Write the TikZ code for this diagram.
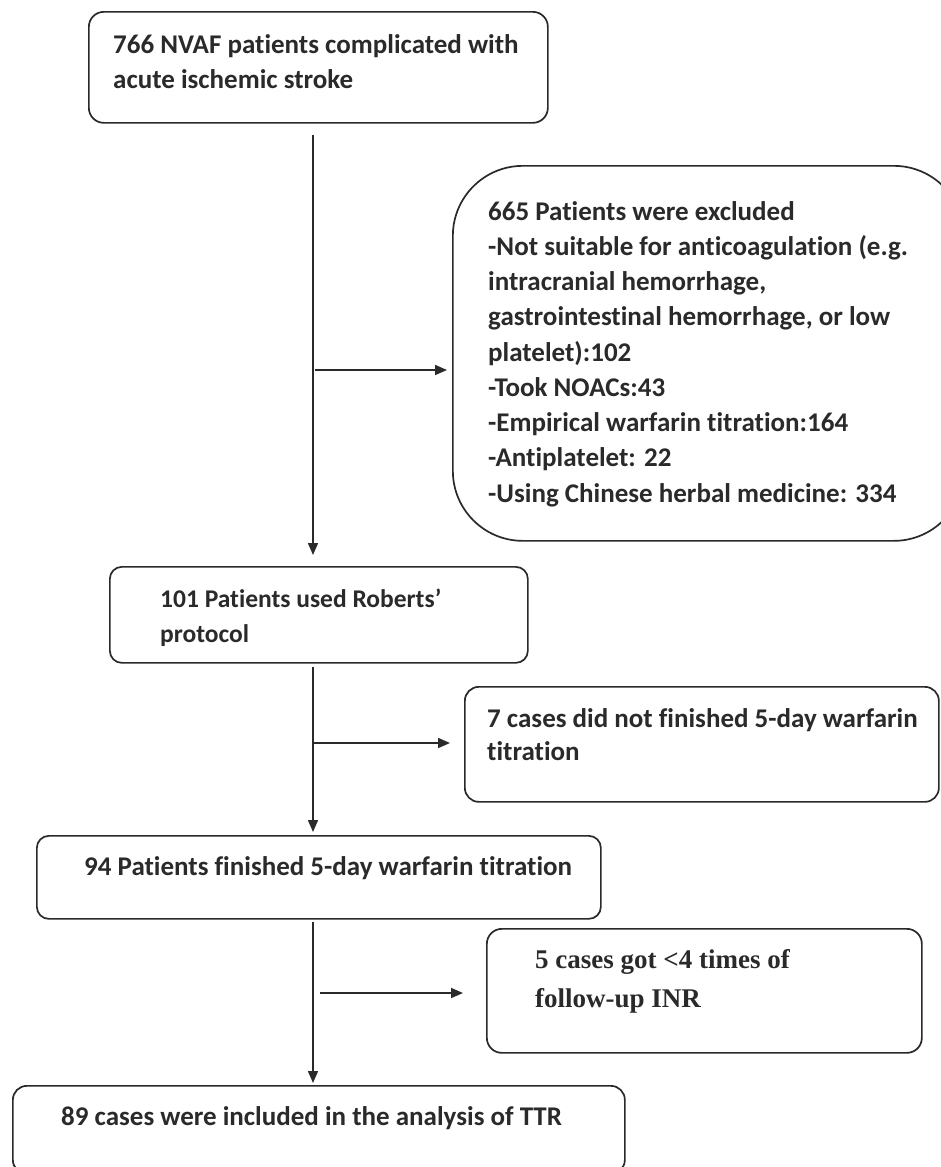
\documentclass[tikz,border=0pt]{standalone}
\usepackage{fontspec}
\setmainfont{Carlito}[Ligatures=NoCommon]
\newfontfamily\serifb{Liberation Serif}
\usetikzlibrary{arrows.meta}
\definecolor{ink}{HTML}{2A2A2A}
\begin{document}
\begin{tikzpicture}[x=1pt,y=-1pt,
  box/.style={draw=ink, line width=1.7pt, inner sep=0pt, anchor=north west},
  txt/.style={inner sep=0pt, anchor=north west, align=left, text=ink, font=\fontsize{27}{35}\selectfont\bfseries},
  arr/.style={draw=ink, line width=1.7pt, -{Triangle[length=12pt,width=10pt]}}]
\useasboundingbox[fill=white] (0,0) rectangle (940,1167);
% boxes
\node[box, rounded corners=15pt, minimum width=459pt, minimum height=111pt] (b1) at (88,11) {};
\node[box, rounded corners=70pt, minimum width=511pt, minimum height=375pt] (bex) at (452,165) {};
\node[box, rounded corners=12pt, minimum width=418pt, minimum height=96pt] (b2) at (109,566) {};
\node[box, rounded corners=14pt, minimum width=474pt, minimum height=115pt] (b7) at (464,686) {};
\node[box, rounded corners=12pt, minimum width=564pt, minimum height=83pt] (b94) at (36,835) {};
\node[box, rounded corners=15pt, minimum width=435pt, minimum height=124pt] (b5) at (486,928) {};
\node[box, rounded corners=14pt, minimum width=612pt, minimum height=88pt] (b89) at (12,1085) {};
% texts
\node[txt] (t1) at (113,29) {\rule{0pt}{24pt}766 NVAF patients complicated with\\acute ischemic stroke};
\node[txt, font=\fontsize{27}{35.25}\selectfont\bfseries] (tex) at (488,196) {\rule{0pt}{24pt}665 Patients were excluded\\
-Not suitable for anticoagulation (e.g.\\
intracranial hemorrhage,\\
gastrointestinal hemorrhage, or low\\
platelet):102\\
-Took NOACs:43\\
-Empirical warfarin titration:164\\
-Antiplatelet: 22\\
-Using Chinese herbal medicine: 334};
\node[txt, font=\fontsize{25.5}{35}\selectfont\bfseries] (t2) at (160,583) {\rule{0pt}{24pt}101 Patients used Roberts’\\protocol};
\node[txt, font=\fontsize{27}{33.5}\selectfont\bfseries] (t7) at (487,703) {\rule{0pt}{24pt}7 cases did not finished 5-day warfarin\\titration};
\node[txt] (t94) at (84,851) {\rule{0pt}{24pt}94 Patients finished 5-day warfarin titration};
\node[txt, font=\fontsize{27}{39}\selectfont\serifb\bfseries] (t5) at (535,944) {\rule{0pt}{24pt}5 cases got <4 times of\\follow-up INR};
\node[txt] (t89) at (61,1101) {\rule{0pt}{24pt}89 cases were included in the analysis of TTR};
% connectors
\coordinate (v1) at (313,135);
\coordinate (h1) at (315,370);
\coordinate (v2) at (313,667);
\coordinate (h2) at (313,743);
\coordinate (v3) at (313,922);
\coordinate (h3) at (320,993);
\draw[arr, shorten >=11pt] (v1) -- (v1 |- b2.north);
\draw[arr, shorten >=5pt] (h1) -- (h1 -| bex.west);
\draw[arr, shorten >=3pt] (v2) -- (v2 |- b94.north);
\draw[arr, shorten >=14pt] (h2) -- (h2 -| b7.west);
\draw[arr, shorten >=2pt] (v3) -- (v3 |- b89.north);
\draw[arr, shorten >=23pt] (h3) -- (h3 -| b5.west);
\end{tikzpicture}
\end{document}
